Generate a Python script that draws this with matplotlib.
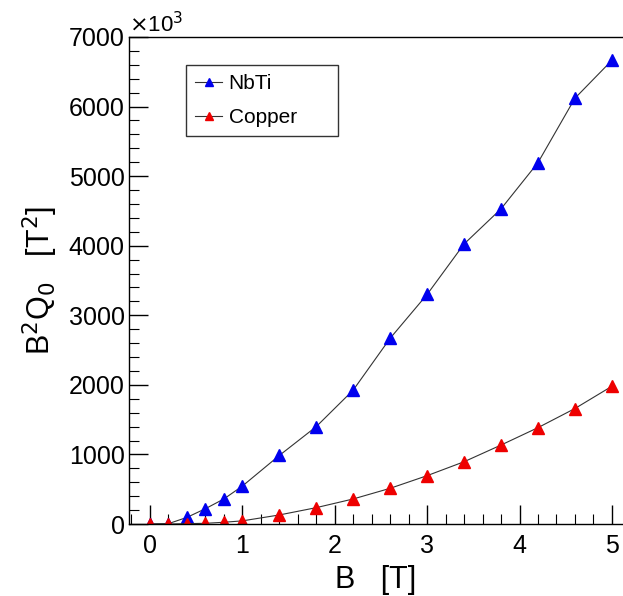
import numpy as np
from matplotlib import pyplot as plt
from matplotlib.ticker import MultipleLocator

plt.rcParams['font.family'] = ['Liberation Sans', 'DejaVu Sans']

# field values [T]
b_field = [0, 0.2, 0.4, 0.6, 0.8, 1.0, 1.4, 1.8, 2.2, 2.6, 3.0, 3.4, 3.8, 4.2, 4.6, 5.0]
# B^2 Q0 in units of 10^3 T^2
nbti = [0, 5, 95, 220, 360, 545, 985, 1400, 1925, 2670, 3300, 4025, 4530, 5195, 6120, 6665]
copper = [0, 0, 5, 10, 25, 45, 130, 235, 360, 513, 695, 895, 1135, 1385, 1660, 1980]

fig = plt.figure(figsize=(6.23, 5.96), dpi=100)
ax = fig.add_axes([129/623, 72/596, 494/623, 487/596])

ax.plot(b_field, nbti, color="#333333", lw=0.8, marker="^", ms=8,
        mfc="#0000ee", mec="#0000ee", label="NbTi")
ax.plot(b_field, copper, color="#333333", lw=0.8, marker="^", ms=8,
        mfc="#ee0000", mec="#ee0000", label="Copper")

ax.set_xlim(-0.227, 5.12)
ax.set_ylim(0, 7000)
ax.spines["right"].set_visible(False)
for s in ["left", "bottom", "top"]:
    ax.spines[s].set_linewidth(1.0)

ax.xaxis.set_major_locator(MultipleLocator(1))
ax.xaxis.set_minor_locator(MultipleLocator(0.2))
ax.yaxis.set_major_locator(MultipleLocator(1000))
ax.yaxis.set_minor_locator(MultipleLocator(200))
ax.tick_params(which="both", direction="in", top=False, right=False, labelsize=18)
ax.tick_params(which="major", length=14, width=1)
ax.tick_params(which="minor", length=7, width=0.8)
ax.tick_params(axis="y", pad=3)
ax.tick_params(axis="x", pad=7)

ax.set_xlabel("B   [T]", fontsize=22, labelpad=5)
ax.set_ylabel("B$^2$Q$_0$   [T$^2$]", fontsize=22, labelpad=6)
ax.text(0.0, 1.0, r"$\times$10$^3$", transform=ax.transAxes, fontsize=16,
        ha="left", va="bottom")

leg = ax.legend(loc="upper left", mode="expand",
                bbox_to_anchor=(57/494, 1 - 28/487, 152/494, 0.0),
                fontsize=15, frameon=True, fancybox=False, edgecolor="black",
                borderpad=0.45, labelspacing=0.7, handlelength=1.3,
                handletextpad=0.3, borderaxespad=0.0, markerscale=0.8)
leg.get_frame().set_linewidth(1.0)

fig.savefig("out.png", dpi=100)
